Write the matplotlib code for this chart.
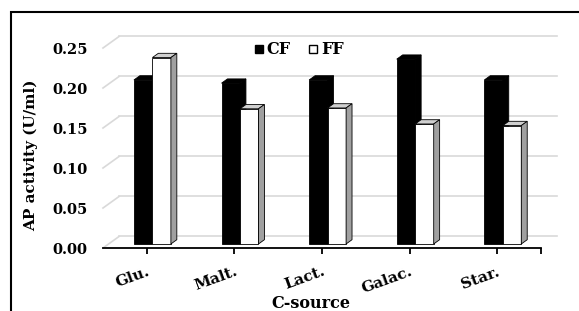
import matplotlib.pyplot as plt
from matplotlib.lines import Line2D
from matplotlib.patches import Rectangle

sources = ["Glu.", "Malt.", "Lact.", "Galac.", "Star."]
cf = [0.205, 0.201, 0.205, 0.231, 0.205]
ff = [0.233, 0.169, 0.170, 0.150, 0.148]
yticks = [0.00, 0.05, 0.10, 0.15, 0.20, 0.25]

plt.rcParams['font.family'] = 'DejaVu Serif'
plt.rcParams['font.weight'] = 'bold'

fig = plt.figure(figsize=(5.79, 3.11), dpi=100)
ax = fig.add_axes([103 / 579, 63 / 311, 438 / 579, 200 / 311])
ax.set_xlim(0, 5)
ax.set_ylim(0, 0.25)

# fake 3d: offset of the back wall, and bar depth range
DX, DY = 0.183, 0.0144
f1, f2 = 0.35, 0.72
w = 0.211
grid = '#d9d9d9'

for v in yticks:
    ax.plot([DX, 5 + DX], [v + DY, v + DY], color=grid, lw=1.2, clip_on=False, zorder=0)
    ax.plot([0, DX], [v, v + DY], color=grid, lw=1.2, clip_on=False, zorder=0)


def box(x0, x1, v, front, top, side):
    a0, a1 = x0 + f1 * DX, x1 + f1 * DX
    b0, b1 = x0 + f2 * DX, x1 + f2 * DX
    y1, y2 = f1 * DY, f2 * DY
    kw = dict(edgecolor='black', lw=0.6, clip_on=False, zorder=3)
    ax.fill([a0, a1, a1, a0], [y1, y1, v + y1, v + y1], facecolor=front, **kw)
    ax.fill([a0, a1, b1, b0], [v + y1, v + y1, v + y2, v + y2], facecolor=top, **kw)
    ax.fill([a1, b1, b1, a1], [y1, y2, v + y2, v + y1], facecolor=side, **kw)


for i in range(len(sources)):
    c = i + 0.5
    box(c - w, c, cf[i], 'black', 'black', 'black')
    box(c, c + w, ff[i], 'white', '#d0d0d0', '#a0a0a0')

for s in ['top', 'right', 'left']:
    ax.spines[s].set_visible(False)
ax.spines['bottom'].set_linewidth(1.3)
ax.spines['bottom'].set_zorder(4)

ax.set_yticks(yticks)
ax.set_yticklabels([f"{v:.2f}" for v in yticks])
ax.tick_params(axis='y', length=0, pad=11, labelsize=10.5)

ax.set_xticks([i + 0.5 for i in range(len(sources))] + [5])
ax.set_xticklabels(sources + [""], rotation=20, ha='right', rotation_mode='anchor')
ax.tick_params(axis='x', length=4, width=1.3, pad=8, labelsize=11)

ax.set_xlabel("C-source", fontsize=11.5, fontweight='bold')
ax.xaxis.set_label_coords(0.475, -0.28)
ax.xaxis.label.set_va('center')
ax.set_ylabel("AP activity (U/ml)", fontsize=11, fontweight='bold')
ax.yaxis.set_label_coords(-0.164, 0.465)
ax.yaxis.label.set_va('center')

handles = [Line2D([], [], marker='s', ls='', markersize=6, markerfacecolor='black', markeredgecolor='black'),
           Line2D([], [], marker='s', ls='', markersize=6, markerfacecolor='white', markeredgecolor='black')]
ax.legend(handles, ["CF", "FF"], ncol=2, frameon=False, loc='center', bbox_to_anchor=(0.447, 0.99),
          handlelength=0.6, handletextpad=0.2, columnspacing=1.1, fontsize=11.5)

fig.add_artist(Rectangle((11 / 579, -0.5), 2, 0.5 + 299 / 311, transform=fig.transFigure,
                         fill=False, lw=1.5, edgecolor='black'))

fig.savefig("out.png", dpi=100)
